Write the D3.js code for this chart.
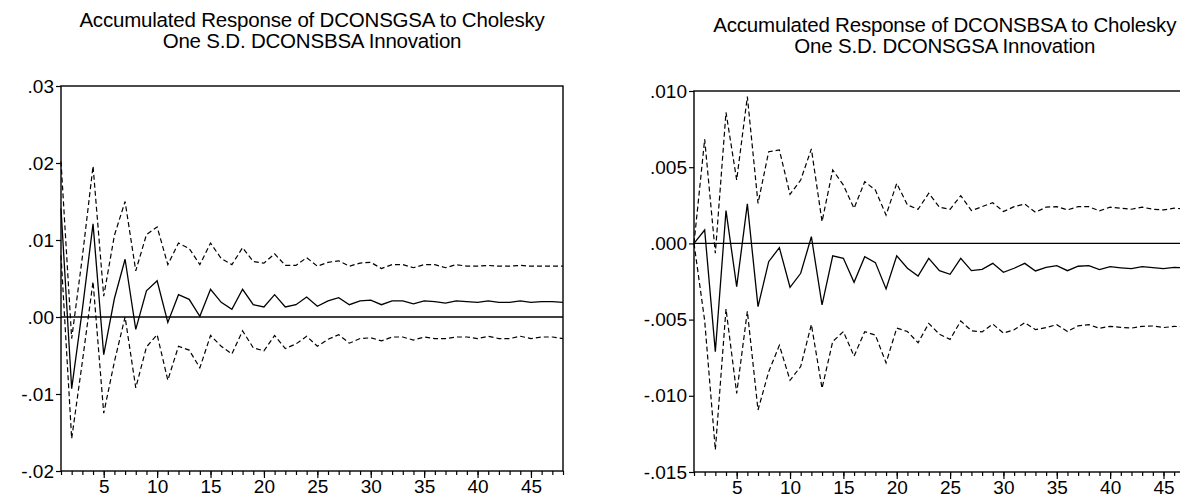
<!DOCTYPE html>
<html><head><meta charset="utf-8">
<script src="https://cdn.jsdelivr.net/npm/d3@7"></script>
<style>
body{margin:0;background:#fff}
svg{display:block}
text{font-family:"Liberation Sans",Arial,sans-serif;fill:#000}
</style>
</head><body>
<svg id="chart" width="1180" height="501"></svg>
<script>
const periods = [1,2,3,4,5,6,7,8,9,10,11,12,13,14,15,16,17,18,19,20,21,22,23,24,25,26,27,28,29,30,31,32,33,34,35,36,37,38,39,40,41,42,43,44,45,46,47,48];
const xTickLabels = [5,10,15,20,25,30,35,40,45];

// Left panel: Response of DCONSGSA to DCONSBSA
const leftTitle = ["Accumulated Response of DCONSGSA to Cholesky", "One S.D. DCONSBSA Innovation"];
const leftYTicks = [0.03, 0.02, 0.01, 0.00, -0.01, -0.02];
const leftYTickLabels = [".03", ".02", ".01", ".00", "-.01", "-.02"];
const leftResponse = [0.0141,-0.0093,0.0010,0.0121,-0.0049,0.0024,0.0075,-0.0016,0.0034,0.0047,-0.0007,0.0029,0.0023,0.0001,0.0036,0.0019,0.0010,0.0036,0.0016,0.0013,0.0029,0.0013,0.0016,0.0026,0.0014,0.0021,0.0025,0.0016,0.0021,0.0022,0.0016,0.0021,0.0021,0.0017,0.0021,0.0020,0.0018,0.0021,0.0020,0.0019,0.0021,0.0019,0.0019,0.0021,0.0019,0.0020,0.0020,0.0019];
const leftUpper = [0.0202,-0.0028,0.0078,0.0196,0.0027,0.0106,0.0150,0.0060,0.0107,0.0117,0.0068,0.0096,0.0089,0.0068,0.0096,0.0076,0.0068,0.0090,0.0072,0.0070,0.0082,0.0067,0.0067,0.0077,0.0066,0.0071,0.0073,0.0066,0.0070,0.0071,0.0063,0.0068,0.0068,0.0064,0.0068,0.0068,0.0064,0.0068,0.0066,0.0066,0.0067,0.0066,0.0066,0.0067,0.0066,0.0066,0.0066,0.0066];
const leftLower = [0.0080,-0.0158,-0.0058,0.0046,-0.0125,-0.0058,0.0000,-0.0092,-0.0039,-0.0023,-0.0082,-0.0038,-0.0043,-0.0066,-0.0024,-0.0038,-0.0048,-0.0018,-0.0040,-0.0044,-0.0024,-0.0041,-0.0035,-0.0025,-0.0038,-0.0029,-0.0023,-0.0034,-0.0028,-0.0027,-0.0031,-0.0026,-0.0026,-0.0030,-0.0026,-0.0028,-0.0028,-0.0026,-0.0026,-0.0028,-0.0025,-0.0028,-0.0028,-0.0025,-0.0028,-0.0026,-0.0026,-0.0028];

// Right panel: Response of DCONSBSA to DCONSGSA
const rightTitle = ["Accumulated Response of DCONSBSA to Cholesky", "One S.D. DCONSGSA Innovation"];
const rightYTicks = [0.010, 0.005, 0.000, -0.005, -0.010, -0.015];
const rightYTickLabels = [".010", ".005", ".000", "-.005", "-.010", "-.015"];
const rightResponse = [0.0000,0.00088,-0.0071,0.00215,-0.00284,0.00259,-0.00415,-0.0012,-0.00028,-0.00288,-0.00196,0.00044,-0.00404,-0.00081,-0.00098,-0.00255,-0.00087,-0.00126,-0.00299,-0.00081,-0.00163,-0.00214,-0.00098,-0.00179,-0.00203,-0.00098,-0.00179,-0.0017,-0.00131,-0.0019,-0.00163,-0.00131,-0.00181,-0.00157,-0.00146,-0.00179,-0.0015,-0.00146,-0.00172,-0.00153,-0.0016,-0.00166,-0.00153,-0.00159,-0.00166,-0.00157,-0.0016,-0.0016];
const rightUpper = [0.0000,0.00683,-0.00065,0.0086,0.00416,0.00963,0.00263,0.00602,0.00613,0.00322,0.00416,0.0062,0.00143,0.00482,0.00383,0.0023,0.00405,0.0035,0.00186,0.00394,0.00252,0.00224,0.00329,0.00238,0.00224,0.00313,0.00215,0.00241,0.00267,0.00209,0.00241,0.00258,0.00204,0.00238,0.00241,0.0022,0.00241,0.00241,0.00213,0.00238,0.00231,0.00224,0.00238,0.00224,0.0022,0.00231,0.00226,0.0023];
const rightLower = [0.0000,-0.00507,-0.01355,-0.0043,-0.00984,-0.00445,-0.01093,-0.00842,-0.00669,-0.00898,-0.00808,-0.00532,-0.00951,-0.00644,-0.00579,-0.0074,-0.00579,-0.00602,-0.00784,-0.00556,-0.00578,-0.00652,-0.00525,-0.00596,-0.0063,-0.00509,-0.00573,-0.00581,-0.00529,-0.00589,-0.00567,-0.0052,-0.00566,-0.00552,-0.00533,-0.00578,-0.00541,-0.00533,-0.00557,-0.00544,-0.00551,-0.00556,-0.00544,-0.00542,-0.00552,-0.00545,-0.00546,-0.0055];

const svg = d3.select("#chart");
const FONT = '"Liberation Sans",Arial,sans-serif';

function drawPanel(cfg) {
  const g = svg.append("g");
  const x = d3.scaleLinear().domain([periods[0], periods[periods.length - 1]]).range([cfg.x0, cfg.x1]);
  const y = d3.scaleLinear().domain([d3.min(cfg.yTicks), d3.max(cfg.yTicks)]).range([cfg.y1, cfg.y0]);
  const cx = (cfg.x0 + cfg.x1) / 2;

  // titles
  g.selectAll("text.title").data(cfg.title).join("text")
    .attr("class", "title")
    .attr("x", cx)
    .attr("y", (d, i) => cfg.titleY + i * 21)
    .attr("text-anchor", "middle")
    .style("font-size", "20.5px")
    .style("letter-spacing", "-0.2px")
    .text(d => d);

  // minor x ticks
  g.append("g").attr("transform", `translate(0,${cfg.y1})`)
    .call(d3.axisBottom(x).tickValues(periods).tickSize(4).tickFormat(""))
    .call(a => a.select(".domain").remove())
    .call(a => a.selectAll("line").attr("stroke", "#000").attr("stroke-width", 1.2));
  // major x ticks with labels
  g.append("g").attr("transform", `translate(0,${cfg.y1})`)
    .call(d3.axisBottom(x).tickValues(xTickLabels).tickSize(7).tickPadding(2))
    .call(a => a.select(".domain").remove())
    .call(a => a.selectAll("line").attr("stroke", "#000").attr("stroke-width", 1.2))
    .call(a => a.selectAll("text").style("font-size", "19px").style("font-family", FONT).attr("fill", "#000"));

  // y ticks
  g.append("g").attr("transform", `translate(${cfg.x0},0)`)
    .call(d3.axisLeft(y).tickValues(cfg.yTicks).tickSize(5).tickPadding(2)
      .tickFormat((d, i) => cfg.yTickLabels[i]))
    .call(a => a.select(".domain").remove())
    .call(a => a.selectAll("line").attr("stroke", "#000").attr("stroke-width", 1.2))
    .call(a => a.selectAll("text").style("font-size", "19px").style("font-family", FONT).attr("fill", "#000"));

  // frame
  g.append("rect")
    .attr("x", cfg.x0).attr("y", cfg.y0)
    .attr("width", cfg.x1 - cfg.x0).attr("height", cfg.y1 - cfg.y0)
    .attr("fill", "none").attr("stroke", "#000").attr("stroke-width", 1.4);

  // zero line
  g.append("line")
    .attr("x1", cfg.x0).attr("x2", cfg.x1)
    .attr("y1", y(0)).attr("y2", y(0))
    .attr("stroke", "#000").attr("stroke-width", 1.3);

  const line = d3.line().x((d, i) => x(periods[i])).y(d => y(d));
  g.append("path").datum(cfg.upper).attr("d", line)
    .attr("fill", "none").attr("stroke", "#000").attr("stroke-width", 1.2).attr("stroke-dasharray", "5,3");
  g.append("path").datum(cfg.lower).attr("d", line)
    .attr("fill", "none").attr("stroke", "#000").attr("stroke-width", 1.2).attr("stroke-dasharray", "5,3");
  g.append("path").datum(cfg.response).attr("d", line)
    .attr("fill", "none").attr("stroke", "#000").attr("stroke-width", 1.3);
}

drawPanel({
  x0: 61, x1: 563, y0: 86, y1: 471, titleY: 27,
  title: leftTitle, yTicks: leftYTicks, yTickLabels: leftYTickLabels,
  response: leftResponse, upper: leftUpper, lower: leftLower
});
drawPanel({
  x0: 694, x1: 1195.5, y0: 91, y1: 472, titleY: 32,
  title: rightTitle, yTicks: rightYTicks, yTickLabels: rightYTickLabels,
  response: rightResponse, upper: rightUpper, lower: rightLower
});
</script>
</body></html>
